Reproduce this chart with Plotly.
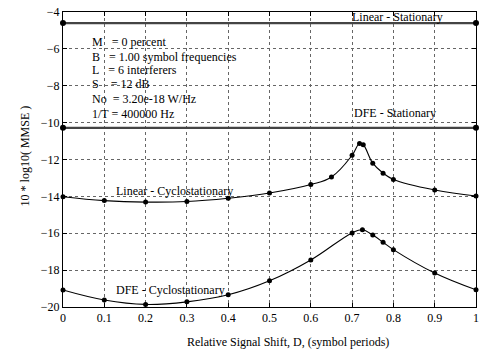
import plotly.graph_objects as go

# ---- data ----
lin_cyc_x = [0, 0.1, 0.2, 0.3, 0.4, 0.5, 0.6, 0.65, 0.7, 0.718, 0.727, 0.75, 0.775, 0.8, 0.9, 1.0]
lin_cyc_y = [-14.02, -14.23, -14.31, -14.28, -14.1, -13.82, -13.36, -12.95, -11.77, -11.13, -11.2,
             -12.2, -12.74, -13.08, -13.65, -13.98]

dfe_cyc_x = [0, 0.1, 0.2, 0.3, 0.4, 0.5, 0.6, 0.7, 0.725, 0.75, 0.775, 0.8, 0.9, 1.0]
dfe_cyc_y = [-19.08, -19.62, -19.86, -19.72, -19.34, -18.58, -17.45, -15.98, -15.81, -16.1,
             -16.49, -16.89, -18.16, -19.07]

lin_stat_x = [0, 1]
lin_stat_y = [-4.6, -4.6]
dfe_stat_x = [0, 1]
dfe_stat_y = [-10.28, -10.28]

x_ticks = [0, 0.1, 0.2, 0.3, 0.4, 0.5, 0.6, 0.7, 0.8, 0.9, 1]
x_tick_labels = ["0", "0.1", "0.2", "0.3", "0.4", "0.5", "0.6", "0.7", "0.8", "0.9", "1"]
y_ticks = [-20, -18, -16, -14, -12, -10, -8, -6, -4]

param_lines = [
    "M\u00a0\u00a0 = 0 percent",
    "B\u00a0\u00a0 = 1.00 symbol frequencies",
    "L\u00a0\u00a0 = 6 interferers",
    "S\u00a0\u00a0\u00a0 = 12 dB",
    "No\u00a0 = 3.20e-18 W/Hz",
    "1/T = 400000 Hz",
]
param_y = [-5.6, -6.42, -7.15, -7.93, -8.7, -9.52]

FONT = "Liberation Serif, Times New Roman, serif"

fig = go.Figure()
for xs, ys in [(lin_stat_x, lin_stat_y), (dfe_stat_x, dfe_stat_y)]:
    fig.add_trace(go.Scatter(x=xs, y=ys, mode="lines+markers",
                             line=dict(color="#444444", width=2.2),
                             marker=dict(color="black", size=6),
                             cliponaxis=False, showlegend=False))
for xs, ys in [(lin_cyc_x, lin_cyc_y), (dfe_cyc_x, dfe_cyc_y)]:
    fig.add_trace(go.Scatter(x=xs, y=ys, mode="lines+markers",
                             line=dict(color="black", width=1.1, shape="spline", smoothing=1.15),
                             marker=dict(color="black", size=5),
                             cliponaxis=False, showlegend=False))

axis_common = dict(showline=True, linecolor="black", linewidth=1, mirror="allticks",
                   ticks="inside", ticklen=4, tickcolor="black",
                   showgrid=True, gridcolor="#666666", griddash="dot", gridwidth=1,
                   zeroline=False, tickfont=dict(family=FONT, size=12, color="black"))

fig.update_xaxes(range=[0, 1], tickvals=x_ticks, ticktext=x_tick_labels, **axis_common)
fig.update_yaxes(range=[-20, -4], tickvals=y_ticks, **axis_common)

ann = []
ann.append(dict(x=0.695, y=-4.27, xref="x", yref="y", text="Linear - Stationary",
                showarrow=False, xanchor="left", yanchor="middle"))
ann.append(dict(x=0.70, y=-9.5, xref="x", yref="y", text="DFE - Stationary",
                showarrow=False, xanchor="left", yanchor="middle"))
ann.append(dict(x=0.124, y=-13.72, xref="x", yref="y", text="Linear - Cyclostationary",
                showarrow=False, xanchor="left", yanchor="middle"))
ann.append(dict(x=0.124, y=-19.06, xref="x", yref="y", text="DFE - Cyclostationary",
                showarrow=False, xanchor="left", yanchor="middle"))
for t, yy in zip(param_lines, param_y):
    ann.append(dict(x=0.065, y=yy, xref="x", yref="y", text=t,
                    showarrow=False, xanchor="left", yanchor="middle"))
ann.append(dict(x=-0.091, y=0.512, xref="paper", yref="paper", text="10 * log10( MMSE )",
                textangle=-90, showarrow=False, xanchor="center", yanchor="middle"))
ann.append(dict(x=0.546, y=-0.118, xref="paper", yref="paper",
                text="Relative Signal Shift, D, (symbol periods)",
                showarrow=False, xanchor="center", yanchor="middle"))

fig.update_layout(
    width=482, height=352,
    margin=dict(l=63, r=3, t=12, b=45),
    paper_bgcolor="white", plot_bgcolor="white",
    font=dict(family=FONT, size=12, color="black"),
    annotations=ann,
)

fig.write_html("out.html")
